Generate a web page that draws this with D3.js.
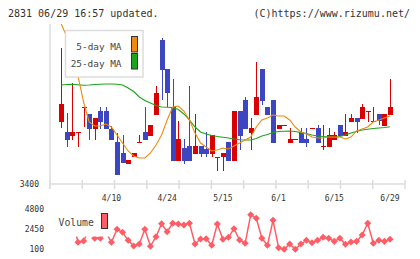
<!DOCTYPE html>
<html><head><meta charset="utf-8">
<script src="https://cdn.jsdelivr.net/npm/d3@7"></script>
<style>
html,body{margin:0;padding:0;background:#fff;}
svg{display:block;font-family:"DejaVu Sans Mono",monospace;}
</style></head>
<body><svg id="c" width="420" height="259"></svg>
<script>
// ---- data ----
const opens  = [3712,3662,3642,3660,3785,3750,3675,3767,3765,3675,3610,3555,3502,3536,3610,3660,3642,3745,4120,3975,3787,3517,3579,3590,3550,3590,3575,3550,3537,3537,3610,3517,3765,3820,3655,3745,3975,3785,3820,3675,3695,3605,3625,3660,3625,3680,3680,3590,3585,3620,3695,3640,3710,3730,3725,3765,3710,3750,3690,3745];
const highs  = [4080,3754,3905,3660,3785,3750,3729,3784,3785,3690,3655,3645,3520,3556,3645,3786,3696,3890,4130,3975,3925,3715,3625,3890,3750,3590,3660,3645,3537,3554,3610,3765,3765,3835,3730,4010,3975,3785,3820,3695,3695,3680,3625,3680,3680,3680,3695,3695,3680,3660,3695,3750,3750,3730,3800,3765,3785,3750,3750,3925];
const lows   = [3679,3587,3620,3587,3687,3620,3620,3675,3675,3620,3445,3504,3502,3536,3610,3622,3642,3745,3820,3787,3517,3517,3500,3517,3550,3535,3537,3537,3467,3467,3517,3517,3570,3675,3570,3745,3795,3745,3605,3675,3695,3605,3625,3605,3585,3680,3605,3570,3585,3620,3640,3640,3710,3655,3725,3710,3710,3695,3690,3745];
const closes = [3800,3620,3662,3660,3785,3675,3729,3712,3675,3622,3445,3504,3520,3556,3610,3622,3696,3856,3970,3854,3517,3625,3517,3517,3590,3550,3550,3645,3537,3554,3517,3765,3642,3675,3680,3835,3815,3745,3605,3695,3695,3625,3625,3605,3605,3680,3605,3590,3645,3645,3640,3660,3730,3710,3785,3765,3715,3715,3750,3785];
const ma5  = [4200,4135,4035,3940,3810,3710,3690,3690,3700,3685,3645,3605,3565,3540,3530,3530,3555,3595,3645,3720,3785,3790,3765,3720,3655,3605,3585,3565,3570,3580,3575,3590,3605,3620,3635,3685,3720,3730,3745,3740,3740,3720,3685,3660,3650,3635,3630,3630,3635,3635,3635,3625,3635,3665,3675,3685,3710,3720,3730,3740];
const ma25 = [3895,3897.5,3898.5,3896.5,3893.5,3895,3897.5,3899,3900,3900,3899,3895,3880,3862.5,3835,3817.5,3805,3792.5,3785,3783.5,3782.5,3772.5,3750,3720,3685,3660,3650,3642.5,3637.5,3634,3630,3625,3621,3620,3620,3627.5,3640,3647.5,3657.5,3662.5,3663.5,3665,3662.5,3657.5,3652.5,3645,3640,3637.5,3635,3633.5,3637.5,3645,3655,3662.5,3670,3673.5,3677.5,3680,3682.5,3686.5];
const volumes = [2800,2600,3700,890,1040,2500,1357,1357,2100,890,2415,2060,1120,450,690,2415,420,1545,3070,2130,3120,3040,2920,3120,690,1275,1310,535,3040,1240,1475,2485,1160,770,4130,3710,1360,535,3470,250,80,690,80,690,1120,840,1120,1475,1360,1000,1360,650,920,1000,1745,3120,770,1120,1000,1240];
const dateLabels = ["4/10","4/24","5/15","6/1","6/15","6/29"];
const dateLabelIndex = [9,19,29,39,49,59];
const priceTicks = [3400];
const volumeTicks = [4800,2450,100];
const legendNames = ["5-day MA","25-day MA"];

// ---- chart ----
const svg = d3.select("#c");
const n = closes.length;
const x = d3.scaleLinear().domain([0, n-1]).range([61.3, 390]);
const y = d3.scaleLinear().domain([3400, 4195]).range([184, 25]);
const yv = d3.scaleLinear().domain([100, 4800]).range([249, 209]);
const RED = "#d80000", BLUE = "#3c46c0", ORANGE = "#f08a10", GREEN = "#1ca41c", VOL = "#ff5c66";

svg.append("text").attr("x", 8).attr("y", 16.5).attr("font-size", 10).attr("fill", "#333")
  .text("2831 06/29 16:57 updated.");
svg.append("text").attr("x", 410).attr("y", 16.5).attr("font-size", 10).attr("fill", "#333")
  .attr("text-anchor", "end").text("(C)https://www.rizumu.net/");

svg.append("clipPath").attr("id", "pc").append("rect").attr("x", 50).attr("y", 24).attr("width", 356).attr("height", 161);

const axisG = svg.append("g");
axisG.append("line").attr("x1", 50).attr("x2", 50).attr("y1", 24).attr("y2", 189)
  .attr("stroke", "#dcdcdc").attr("stroke-width", 1.5);
axisG.append("line").attr("x1", 50).attr("x2", 405.5).attr("y1", 184).attr("y2", 184)
  .attr("stroke", "#dcdcdc").attr("stroke-width", 1.5);
const tickScale = d3.scaleLinear().domain([0, 11]).range([50, 405]);
axisG.selectAll("line.t").data(d3.range(12)).join("line").attr("class", "t")
  .attr("x1", d => tickScale(d)).attr("x2", d => tickScale(d)).attr("y1", 180).attr("y2", 189)
  .attr("stroke", "#dcdcdc").attr("stroke-width", 1.5);

axisG.selectAll("text.py").data(priceTicks).join("text").attr("class", "py")
  .attr("x", 39).attr("y", d => y(d) + 3).attr("text-anchor", "end")
  .attr("font-size", 8).attr("fill", "#333").text(d => d);

axisG.selectAll("text.dx").data(dateLabels).join("text").attr("class", "dx")
  .attr("x", (d, i) => x(dateLabelIndex[i])).attr("y", 200.5).attr("text-anchor", "middle")
  .attr("font-size", 8).attr("fill", "#333").text(d => d);

axisG.selectAll("text.vy").data(volumeTicks).join("text").attr("class", "vy")
  .attr("x", 44).attr("y", d => yv(d) + 3).attr("text-anchor", "end")
  .attr("font-size", 8).attr("fill", "#333").text(d => d);

const cg = svg.append("g").attr("clip-path", "url(#pc)").attr("shape-rendering", "crispEdges");
const idx = d3.range(n);
const col = i => closes[i] >= opens[i] ? RED : BLUE;
cg.selectAll("line.w").data(idx).join("line").attr("class", "w")
  .attr("x1", i => Math.round(x(i)) + 0.5).attr("x2", i => Math.round(x(i)) + 0.5)
  .attr("y1", i => y(highs[i])).attr("y2", i => y(lows[i]))
  .attr("stroke", col).attr("stroke-width", 1);
cg.selectAll("rect.b").data(idx).join("rect").attr("class", "b")
  .attr("x", i => Math.round(x(i)) - 2).attr("width", 5)
  .attr("y", i => y(Math.max(opens[i], closes[i])))
  .attr("height", i => Math.max(1, Math.abs(y(opens[i]) - y(closes[i]))))
  .attr("fill", col);

const lineGen = arr => d3.line().x((d, i) => x(i)).y(d => y(d))(arr);
const mg = svg.append("g").attr("clip-path", "url(#pc)");
mg.append("path").attr("d", lineGen(ma25)).attr("fill", "none").attr("stroke", GREEN).attr("stroke-width", 1.1);
mg.append("path").attr("d", lineGen(ma5)).attr("fill", "none").attr("stroke", ORANGE).attr("stroke-width", 1.1);

const lg = svg.append("g");
lg.append("rect").attr("x", 65.5).attr("y", 30.5).attr("width", 77.5).attr("height", 46.5)
  .attr("fill", "#fff").attr("stroke", "#dcdcdc").attr("stroke-width", 1.5);
[ORANGE, GREEN].forEach((c, k) => {
  lg.append("text").attr("x", 121.5).attr("y", 50 + k * 16.5).attr("text-anchor", "end")
    .attr("font-size", 9.4).attr("fill", "#444").text(legendNames[k]);
  lg.append("rect").attr("x", 131.5).attr("y", 36.5 + k * 17).attr("width", 6).attr("height", 15.5)
    .attr("fill", c).attr("stroke", "#333").attr("stroke-width", 1);
});

const vg = svg.append("g");
vg.append("path").attr("d", d3.line().x((d, i) => x(i)).y(d => yv(d))(volumes))
  .attr("fill", "none").attr("stroke", VOL).attr("stroke-width", 1.5);
vg.selectAll("path.dm").data(volumes).join("path").attr("class", "dm")
  .attr("d", d3.symbol(d3.symbolSquare, 25))
  .attr("transform", (d, i) => `translate(${x(i)},${yv(d)}) rotate(45)`)
  .attr("fill", VOL);

const vl = svg.append("g");
vl.append("rect").attr("x", 51).attr("y", 204).attr("width", 60).attr("height", 32.5).attr("fill", "#fff");
vl.append("text").attr("x", 58.5).attr("y", 225.5).attr("font-size", 9.8).attr("fill", "#444").text("Volume");
vl.append("rect").attr("x", 101.5).attr("y", 213.5).attr("width", 6).attr("height", 15)
  .attr("fill", VOL).attr("stroke", "#333").attr("stroke-width", 1);
</script></body></html>
